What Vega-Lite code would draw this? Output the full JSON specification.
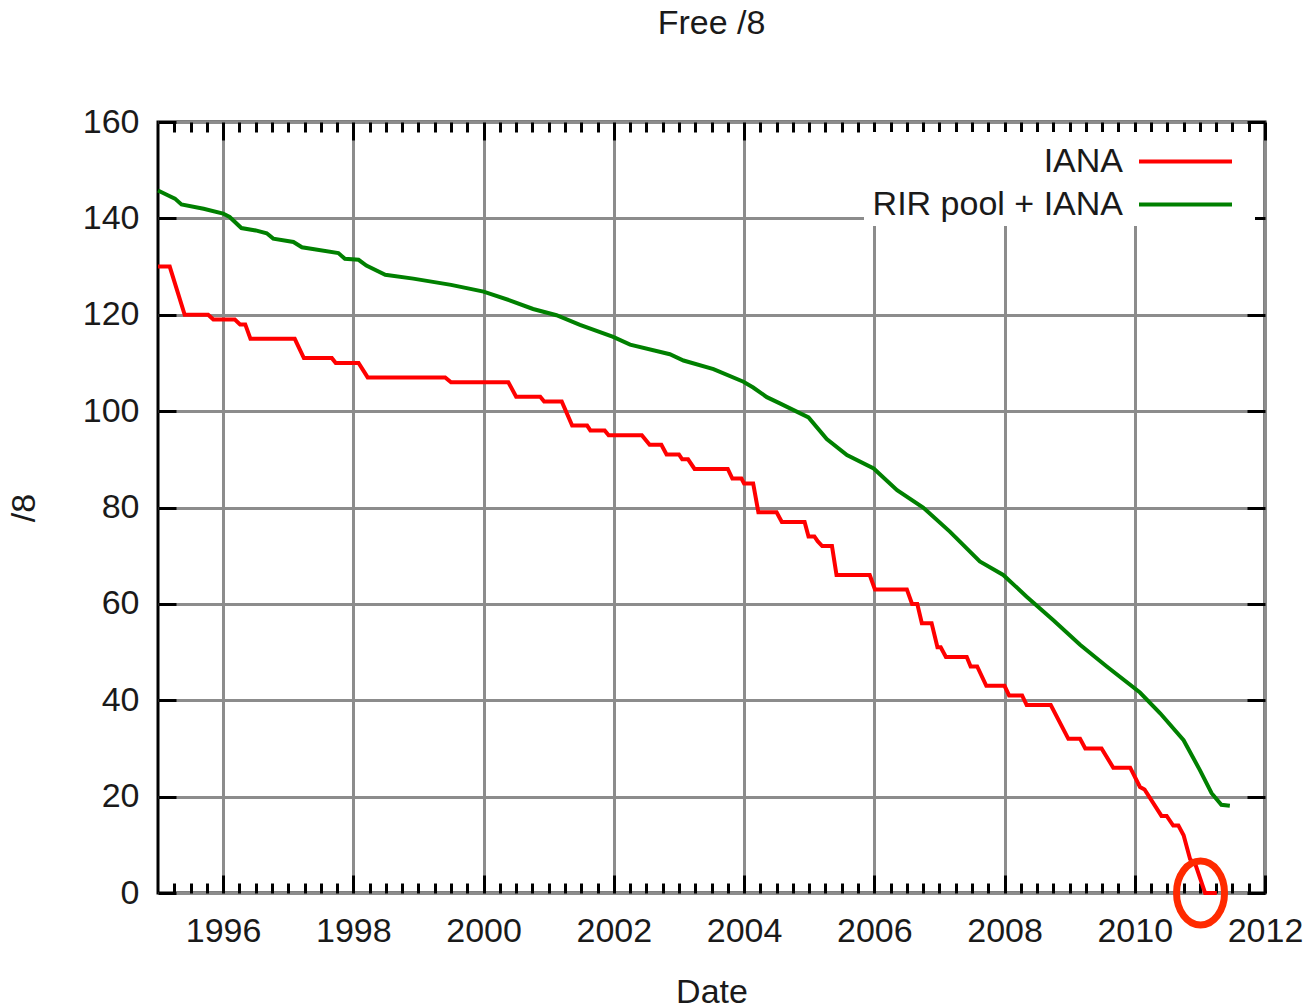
{
  "$schema": "https://vega.github.io/schema/vega-lite/v6.json",
  "width": 1107,
  "height": 771,
  "autosize": {"type": "none"},
  "padding": {"left": 158, "top": 122, "right": 44, "bottom": 115},
  "background": "white",
  "title": {"text": "Free /8", "fontSize": 34, "font": "Liberation Sans", "fontWeight": "normal", "color": "#1a1a1a", "offset": 64, "anchor": "middle"},
  "config": {
    "font": "Liberation Sans",
    "view": {"stroke": "black", "strokeWidth": 3},
    "axis": {
      "labelFont": "Liberation Sans", "labelFontSize": 34, "labelColor": "#1a1a1a",
      "titleFont": "Liberation Sans", "titleFontSize": 34, "titleFontWeight": "normal", "titleColor": "#1a1a1a",
      "tickColor": "black", "tickWidth": 3, "domain": false,
      "gridColor": "#8c8c8c", "gridWidth": 3, "gridOpacity": 1,
      "labelFlush": false, "labelOverlap": false
    },
    "legend": {
      "orient": "top-right", "offset": 10, "padding": 4, "fillColor": "white",
      "labelFont": "Liberation Sans", "labelFontSize": 34, "labelColor": "#1a1a1a",
      "labelAlign": "right", "labelOffset": -88, "symbolOffset": 292,
      "symbolType": "M-2,0H2M2.45,0", "symbolSize": 2162, "symbolStrokeWidth": 4,
      "rowPadding": -2, "labelLimit": 500
    }
  },
  "data": {"values": [
    {"series": "IANA", "year": 1995.0, "value": 130},
    {"series": "IANA", "year": 1995.18, "value": 130},
    {"series": "IANA", "year": 1995.41, "value": 120},
    {"series": "IANA", "year": 1995.77, "value": 120},
    {"series": "IANA", "year": 1995.85, "value": 119},
    {"series": "IANA", "year": 1996.18, "value": 119},
    {"series": "IANA", "year": 1996.26, "value": 118},
    {"series": "IANA", "year": 1996.34, "value": 118},
    {"series": "IANA", "year": 1996.42, "value": 115},
    {"series": "IANA", "year": 1997.1, "value": 115},
    {"series": "IANA", "year": 1997.24, "value": 111},
    {"series": "IANA", "year": 1997.67, "value": 111},
    {"series": "IANA", "year": 1997.73, "value": 110},
    {"series": "IANA", "year": 1998.08, "value": 110},
    {"series": "IANA", "year": 1998.22, "value": 107},
    {"series": "IANA", "year": 1999.41, "value": 107},
    {"series": "IANA", "year": 1999.5, "value": 106},
    {"series": "IANA", "year": 2000.38, "value": 106},
    {"series": "IANA", "year": 2000.5, "value": 103},
    {"series": "IANA", "year": 2000.87, "value": 103},
    {"series": "IANA", "year": 2000.93, "value": 102},
    {"series": "IANA", "year": 2001.2, "value": 102},
    {"series": "IANA", "year": 2001.36, "value": 97},
    {"series": "IANA", "year": 2001.59, "value": 97},
    {"series": "IANA", "year": 2001.64, "value": 96},
    {"series": "IANA", "year": 2001.86, "value": 96},
    {"series": "IANA", "year": 2001.92, "value": 95},
    {"series": "IANA", "year": 2002.43, "value": 95},
    {"series": "IANA", "year": 2002.55, "value": 93},
    {"series": "IANA", "year": 2002.73, "value": 93},
    {"series": "IANA", "year": 2002.81, "value": 91},
    {"series": "IANA", "year": 2003.0, "value": 91},
    {"series": "IANA", "year": 2003.05, "value": 90},
    {"series": "IANA", "year": 2003.14, "value": 90},
    {"series": "IANA", "year": 2003.24, "value": 88},
    {"series": "IANA", "year": 2003.75, "value": 88},
    {"series": "IANA", "year": 2003.82, "value": 86},
    {"series": "IANA", "year": 2003.96, "value": 86},
    {"series": "IANA", "year": 2004.0, "value": 85},
    {"series": "IANA", "year": 2004.14, "value": 85},
    {"series": "IANA", "year": 2004.22, "value": 79},
    {"series": "IANA", "year": 2004.5, "value": 79},
    {"series": "IANA", "year": 2004.58, "value": 77},
    {"series": "IANA", "year": 2004.93, "value": 77},
    {"series": "IANA", "year": 2004.99, "value": 74},
    {"series": "IANA", "year": 2005.08, "value": 74},
    {"series": "IANA", "year": 2005.13, "value": 73},
    {"series": "IANA", "year": 2005.2, "value": 72},
    {"series": "IANA", "year": 2005.35, "value": 72},
    {"series": "IANA", "year": 2005.42, "value": 66},
    {"series": "IANA", "year": 2005.93, "value": 66},
    {"series": "IANA", "year": 2006.01, "value": 63},
    {"series": "IANA", "year": 2006.5, "value": 63},
    {"series": "IANA", "year": 2006.58, "value": 60},
    {"series": "IANA", "year": 2006.66, "value": 60},
    {"series": "IANA", "year": 2006.73, "value": 56},
    {"series": "IANA", "year": 2006.88, "value": 56},
    {"series": "IANA", "year": 2006.97, "value": 51},
    {"series": "IANA", "year": 2007.02, "value": 51},
    {"series": "IANA", "year": 2007.1, "value": 49},
    {"series": "IANA", "year": 2007.42, "value": 49},
    {"series": "IANA", "year": 2007.48, "value": 47},
    {"series": "IANA", "year": 2007.58, "value": 47},
    {"series": "IANA", "year": 2007.72, "value": 43},
    {"series": "IANA", "year": 2008.0, "value": 43},
    {"series": "IANA", "year": 2008.07, "value": 41},
    {"series": "IANA", "year": 2008.27, "value": 41},
    {"series": "IANA", "year": 2008.34, "value": 39},
    {"series": "IANA", "year": 2008.71, "value": 39},
    {"series": "IANA", "year": 2008.98, "value": 32},
    {"series": "IANA", "year": 2009.16, "value": 32},
    {"series": "IANA", "year": 2009.24, "value": 30},
    {"series": "IANA", "year": 2009.49, "value": 30},
    {"series": "IANA", "year": 2009.67, "value": 26},
    {"series": "IANA", "year": 2009.93, "value": 26},
    {"series": "IANA", "year": 2010.08, "value": 22},
    {"series": "IANA", "year": 2010.15, "value": 21.5},
    {"series": "IANA", "year": 2010.41, "value": 16},
    {"series": "IANA", "year": 2010.49, "value": 16},
    {"series": "IANA", "year": 2010.59, "value": 14},
    {"series": "IANA", "year": 2010.67, "value": 14},
    {"series": "IANA", "year": 2010.75, "value": 12},
    {"series": "IANA", "year": 2010.85, "value": 7},
    {"series": "IANA", "year": 2010.93, "value": 6},
    {"series": "IANA", "year": 2011.08, "value": 0},
    {"series": "IANA", "year": 2011.26, "value": 0},
    {"series": "RIR pool + IANA", "year": 1995.0, "value": 145.8},
    {"series": "RIR pool + IANA", "year": 1995.15, "value": 144.8},
    {"series": "RIR pool + IANA", "year": 1995.26, "value": 144.1},
    {"series": "RIR pool + IANA", "year": 1995.36, "value": 142.9},
    {"series": "RIR pool + IANA", "year": 1995.7, "value": 142.0},
    {"series": "RIR pool + IANA", "year": 1996.0, "value": 141.0},
    {"series": "RIR pool + IANA", "year": 1996.1, "value": 140.3},
    {"series": "RIR pool + IANA", "year": 1996.28, "value": 138.0},
    {"series": "RIR pool + IANA", "year": 1996.5, "value": 137.5},
    {"series": "RIR pool + IANA", "year": 1996.67, "value": 136.9},
    {"series": "RIR pool + IANA", "year": 1996.77, "value": 135.8},
    {"series": "RIR pool + IANA", "year": 1997.08, "value": 135.1},
    {"series": "RIR pool + IANA", "year": 1997.21, "value": 134.0},
    {"series": "RIR pool + IANA", "year": 1997.77, "value": 132.8},
    {"series": "RIR pool + IANA", "year": 1997.87, "value": 131.6},
    {"series": "RIR pool + IANA", "year": 1998.08, "value": 131.4},
    {"series": "RIR pool + IANA", "year": 1998.2, "value": 130.2},
    {"series": "RIR pool + IANA", "year": 1998.49, "value": 128.3},
    {"series": "RIR pool + IANA", "year": 1998.92, "value": 127.5},
    {"series": "RIR pool + IANA", "year": 1999.5, "value": 126.2},
    {"series": "RIR pool + IANA", "year": 2000.0, "value": 124.8},
    {"series": "RIR pool + IANA", "year": 2000.4, "value": 123.0},
    {"series": "RIR pool + IANA", "year": 2000.76, "value": 121.2},
    {"series": "RIR pool + IANA", "year": 2001.12, "value": 119.9},
    {"series": "RIR pool + IANA", "year": 2001.48, "value": 117.9},
    {"series": "RIR pool + IANA", "year": 2001.99, "value": 115.4},
    {"series": "RIR pool + IANA", "year": 2002.25, "value": 113.8},
    {"series": "RIR pool + IANA", "year": 2002.86, "value": 111.8},
    {"series": "RIR pool + IANA", "year": 2003.07, "value": 110.5},
    {"series": "RIR pool + IANA", "year": 2003.53, "value": 108.7},
    {"series": "RIR pool + IANA", "year": 2003.99, "value": 106.1},
    {"series": "RIR pool + IANA", "year": 2004.14, "value": 104.9},
    {"series": "RIR pool + IANA", "year": 2004.35, "value": 102.9},
    {"series": "RIR pool + IANA", "year": 2004.55, "value": 101.6},
    {"series": "RIR pool + IANA", "year": 2004.99, "value": 98.7},
    {"series": "RIR pool + IANA", "year": 2005.27, "value": 94.2},
    {"series": "RIR pool + IANA", "year": 2005.58, "value": 90.9},
    {"series": "RIR pool + IANA", "year": 2005.99, "value": 88.1},
    {"series": "RIR pool + IANA", "year": 2006.35, "value": 83.6},
    {"series": "RIR pool + IANA", "year": 2006.75, "value": 80.0},
    {"series": "RIR pool + IANA", "year": 2007.16, "value": 75.0},
    {"series": "RIR pool + IANA", "year": 2007.62, "value": 68.8},
    {"series": "RIR pool + IANA", "year": 2007.98, "value": 66.0},
    {"series": "RIR pool + IANA", "year": 2008.34, "value": 61.5},
    {"series": "RIR pool + IANA", "year": 2008.75, "value": 56.6},
    {"series": "RIR pool + IANA", "year": 2009.16, "value": 51.5},
    {"series": "RIR pool + IANA", "year": 2009.57, "value": 47.0},
    {"series": "RIR pool + IANA", "year": 2010.08, "value": 41.6},
    {"series": "RIR pool + IANA", "year": 2010.39, "value": 37.3},
    {"series": "RIR pool + IANA", "year": 2010.75, "value": 31.7},
    {"series": "RIR pool + IANA", "year": 2011.0, "value": 25.5},
    {"series": "RIR pool + IANA", "year": 2011.18, "value": 20.7},
    {"series": "RIR pool + IANA", "year": 2011.33, "value": 18.3},
    {"series": "RIR pool + IANA", "year": 2011.46, "value": 18.1}
  ]},
  "layer": [
    {
      "transform": [{"filter": "datum.series == 'IANA'"}],
      "mark": {"type": "line", "strokeWidth": 4},
      "encoding": {
        "x": {"field": "year", "type": "quantitative",
          "scale": {"domain": [1995, 2012], "nice": false, "zero": false},
          "axis": {"orient": "bottom", "title": "Date", "format": "d", "tickCount": 20,
            "values": [1996, 1998, 2000, 2002, 2004, 2006, 2008, 2010, 2012],
            "tickSize": -18, "labelPadding": 39, "titlePadding": 27}},
        "y": {"field": "value", "type": "quantitative",
          "scale": {"domain": [0, 160], "nice": false},
          "axis": {"orient": "left", "title": "/8", "values": [0,20,40,60,80,100,120,140,160], "tickCount": 50,
            "tickSize": -18, "labelPadding": 37, "titlePadding": 41}},
        "color": {"field": "series", "type": "nominal",
          "scale": {"domain": ["IANA", "RIR pool + IANA"], "range": ["#ff0000", "#008000"]},
          "legend": {"title": null}}
      }
    },
    {
      "transform": [{"filter": "datum.series == 'RIR pool + IANA'"}],
      "mark": {"type": "line", "strokeWidth": 4},
      "encoding": {
        "x": {"field": "year", "type": "quantitative",
          "axis": {"orient": "top", "title": null, "labels": false, "grid": false, "tickCount": 200, "tickMinStep": 0.25,
            "values": [1995.25,1995.5,1995.75,1996,1996.25,1996.5,1996.75,1997,1997.25,1997.5,1997.75,1998,1998.25,1998.5,1998.75,1999,1999.25,1999.5,1999.75,2000,2000.25,2000.5,2000.75,2001,2001.25,2001.5,2001.75,2002,2002.25,2002.5,2002.75,2003,2003.25,2003.5],
            "tickSize": {"condition": {"test": "datum.value % 2 == 0", "value": -18}, "value": -10}}},
        "y": {"field": "value", "type": "quantitative",
          "axis": {"orient": "right", "title": null, "labels": false, "grid": false, "tickCount": 50,
            "values": [0,20,40,60,80,100,120,140,160], "tickSize": -18}},
        "color": {"field": "series", "type": "nominal", "legend": {"title": null}}
      }
    },
    {
      "data": {"values": [{"year": 2011.01, "value": 0}]},
      "mark": {"type": "point", "shape": "M0,-1A0.75,1,0,1,1,0,1A0.75,1,0,1,1,0,-1Z", "size": 4096, "filled": false, "stroke": "#ff2a00", "strokeWidth": 7, "opacity": 1},
      "encoding": {
        "x": {"field": "year", "type": "quantitative",
          "axis": {"orient": "bottom", "title": null, "labels": false, "grid": false, "tickCount": 200, "tickMinStep": 0.25,
            "values": [1995.25,1995.5,1995.75,1996.25,1996.5,1996.75,1997,1997.25,1997.5,1997.75,1998.25,1998.5,1998.75,1999,1999.25,1999.5,1999.75,2000.25,2000.5,2000.75,2001,2001.25,2001.5,2001.75,2002.25,2002.5,2002.75,2003,2003.25,2003.5,2003.75],
            "tickSize": -10}},
        "y": {"field": "value", "type": "quantitative", "axis": null}
      }
    },
    {
      "data": {"values": [{"year": 2011.01, "value": 0}]},
      "mark": {"type": "point", "opacity": 0},
      "encoding": {
        "x": {"field": "year", "type": "quantitative",
          "axis": {"orient": "top", "title": null, "labels": false, "grid": false, "tickCount": 200, "tickMinStep": 0.25,
            "values": [2003.75,2004,2004.25,2004.5,2004.75,2005,2005.25,2005.5,2005.75,2006,2006.25,2006.5,2006.75,2007,2007.25,2007.5,2007.75,2008,2008.25,2008.5,2008.75,2009,2009.25,2009.5,2009.75,2010,2010.25,2010.5,2010.75,2011,2011.25,2011.5,2011.75,2012],
            "tickSize": {"condition": {"test": "datum.value % 2 == 0", "value": -18}, "value": -10}}},
        "y": {"field": "value", "type": "quantitative", "axis": null}
      }
    },
    {
      "data": {"values": [{"year": 2011.01, "value": 0}]},
      "mark": {"type": "point", "opacity": 0},
      "encoding": {
        "x": {"field": "year", "type": "quantitative",
          "axis": {"orient": "bottom", "title": null, "labels": false, "grid": false, "tickCount": 200, "tickMinStep": 0.25,
            "values": [2004.25,2004.5,2004.75,2005,2005.25,2005.5,2005.75,2006.25,2006.5,2006.75,2007,2007.25,2007.5,2007.75,2008.25,2008.5,2008.75,2009,2009.25,2009.5,2009.75,2010.25,2010.5,2010.75,2011,2011.25,2011.5,2011.75],
            "tickSize": -10}},
        "y": {"field": "value", "type": "quantitative", "axis": null}
      }
    }
  ],
  "resolve": {"axis": {"x": "independent", "y": "independent"}}
}
